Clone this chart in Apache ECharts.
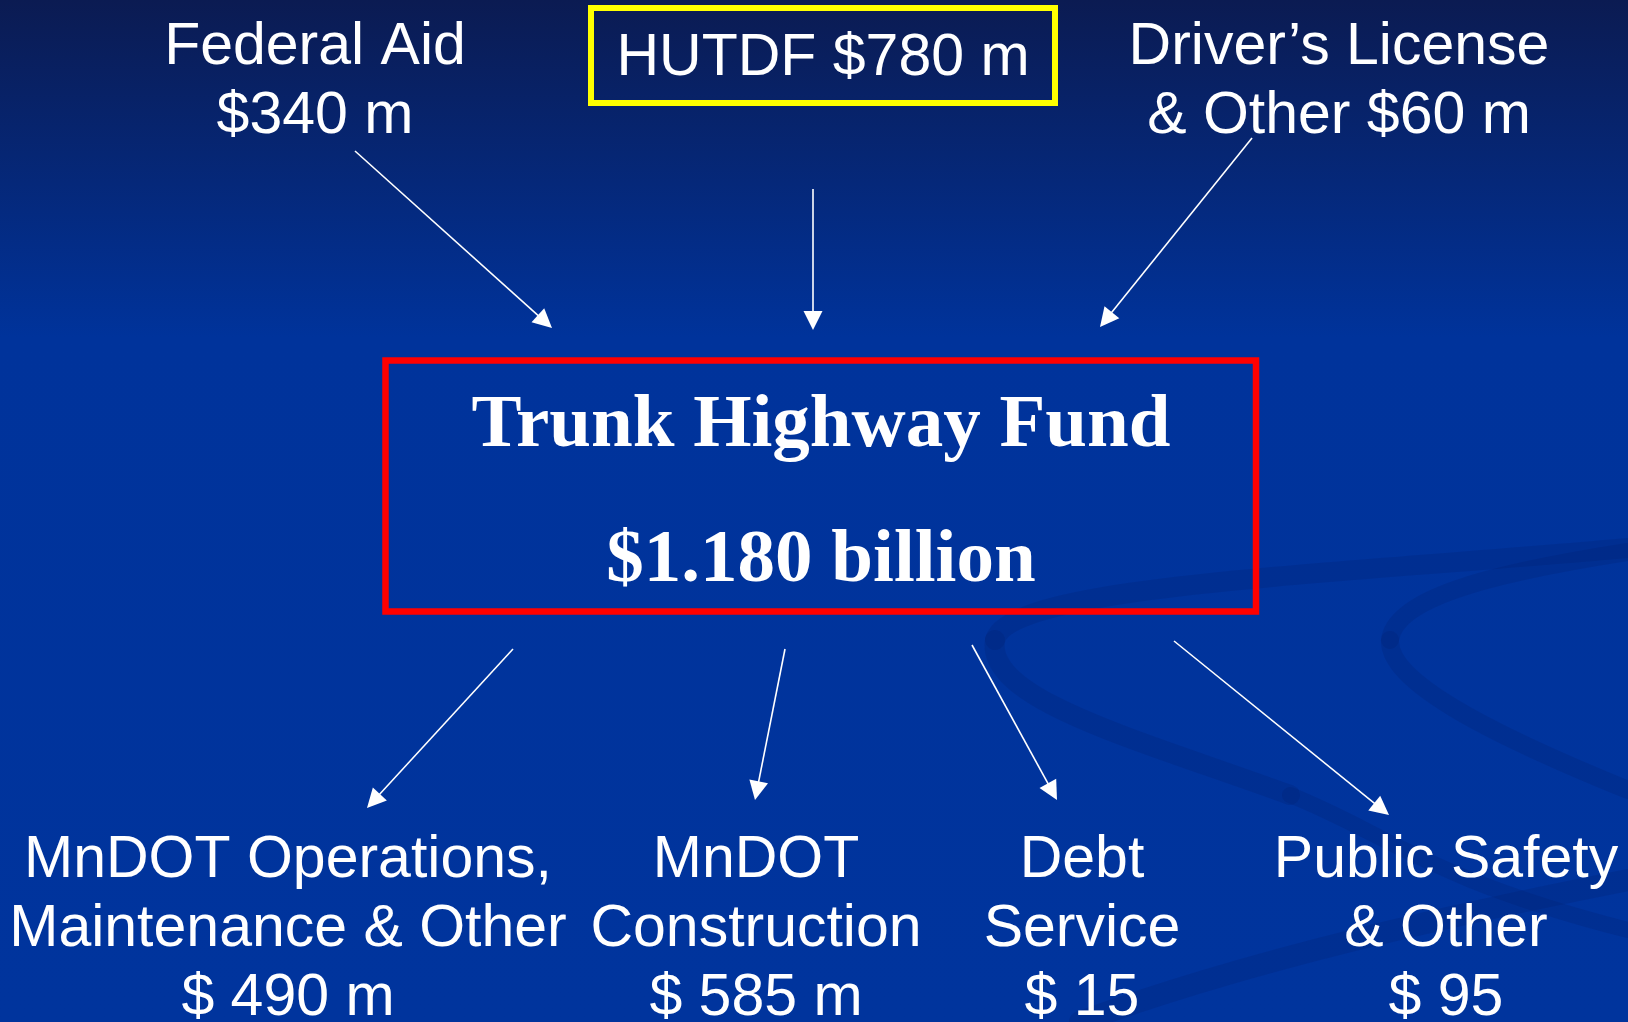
<!DOCTYPE html>
<html>
<head>
<meta charset="utf-8">
<title>Trunk Highway Fund</title>
<script src="https://cdn.jsdelivr.net/npm/echarts@6/dist/echarts.min.js"></script>
<style>
  html, body { margin: 0; padding: 0; }
  #main { width: 1628px; height: 1022px; }
</style>
</head>
<body>
<div id="main"></div>
<script>
// data: money coming in, the fund, money going out ($ millions)
var sourceNames = ['Federal Aid\n', 'HUTDF ', 'Driver\u2019s License\n& Other '];
var sourceAmounts = [340, 780, 60];
var fundNames = ['Trunk Highway Fund'];
var fundTotals = ['1.180'];
var useNames = ['MnDOT Operations,\nMaintenance & Other', 'MnDOT\nConstruction', 'Debt\nService', 'Public Safety\n& Other'];
var useAmounts = [490, 585, 15, 95];
var useUnits = [' m', ' m', '', ''];

// layout (pixels, the axes below map 1:1 to the page)
var sourcePos = [[315, 82.5], [823, 59], [1339, 82.5]];
var fundPos = [821, 494];
var usePos = [[288, 929.5], [756, 929.5], [1082, 929.5], [1446, 929.5]];
// boxes as [x1, y1, x2, y2] of the stroke centre line
var hutdfBox = [591, 8, 1055, 103];
var fundBox = [385.5, 360.5, 1256, 611.5];
var inArrows = [[[355, 151], [552, 328]], [[813, 189], [813, 330]], [[1252, 138], [1100, 327]]];
var outArrows = [[[513, 649], [367, 808]], [[785, 649], [755, 800]], [[972, 645], [1057, 800]], [[1174, 641], [1389, 815]]];
var headSize = 19;

// background swirl, cubic segments [x1,y1, cx1,cy1, cx2,cy2, x2,y2, width]
var swirl = [
    [1628, 548, 1330, 575, 1010, 585, 995, 640, 20],
    [995, 640, 985, 700, 1140, 740, 1290, 795, 20],
    [1290, 795, 1380, 830, 1430, 880, 1628, 930, 16],
    [1628, 552, 1480, 575, 1395, 600, 1390, 640, 18],
    [1390, 640, 1388, 680, 1480, 730, 1628, 790, 18],
    [1080, 1022, 1250, 960, 1450, 915, 1628, 880, 22]
];

var myChart = echarts.init(document.getElementById('main'));

// the arrow head is centred on the line end, so pull the end back by half a head
function arrowLine(a) {
    var dx = a[1][0] - a[0][0], dy = a[1][1] - a[0][1];
    var len = Math.sqrt(dx * dx + dy * dy);
    var k = (len - headSize / 2) / len;
    return { coords: [a[0], [a[0][0] + dx * k, a[0][1] + dy * k]] };
}

function boxArea(b, color, width) {
    return [
        { coord: [b[0], b[1]], itemStyle: { color: 'rgba(0,0,0,0)', borderColor: color, borderWidth: width, opacity: 1 } },
        { coord: [b[2], b[3]] }
    ];
}

var sansLabel = {
    show: true,
    position: 'inside',
    color: '#ffffff',
    fontFamily: 'Liberation Sans',
    fontSize: 59,
    lineHeight: 69
};

var hidden = { color: 'rgba(0,0,0,0)', opacity: 1 };

var sourceData = sourceNames.map(function (n, i) {
    return { name: n, value: sourcePos[i].concat(sourceAmounts[i]) };
});

var useData = useNames.map(function (n, i) {
    return { name: n, value: usePos[i].concat(useAmounts[i]) };
});

var option = {
    backgroundColor: {
        type: 'linear', x: 0, y: 0, x2: 0, y2: 1,
        colorStops: [
            { offset: 0, color: '#0b1b52' },
            { offset: 0.33, color: '#00339b' },
            { offset: 1, color: '#00349d' }
        ]
    },
    animation: false,
    grid: { left: 0, right: 0, top: 0, bottom: 0 },
    xAxis: { type: 'value', min: 0, max: 1628, show: false },
    yAxis: { type: 'value', min: 0, max: 1022, inverse: true, show: false },
    graphic: swirl.map(function (s) {
        return {
            type: 'bezierCurve',
            silent: true,
            shape: { x1: s[0], y1: s[1], cpx1: s[2], cpy1: s[3], cpx2: s[4], cpy2: s[5], x2: s[6], y2: s[7] },
            style: { fill: null, stroke: 'rgba(0,30,105,0.2)', lineWidth: s[8], lineCap: 'round' }
        };
    }),
    series: [
        {
            type: 'lines',
            coordinateSystem: 'cartesian2d',
            symbol: ['none', 'triangle'],
            symbolSize: headSize,
            lineStyle: { color: '#ffffff', width: 1.6, opacity: 1, curveness: 0 },
            data: inArrows.concat(outArrows).map(arrowLine),
            silent: true
        },
        {
            type: 'scatter',
            data: sourceData,
            symbol: 'rect',
            symbolSize: 1,
            itemStyle: hidden,
            label: Object.assign({}, sansLabel, {
                formatter: function (p) { return p.name + '$' + p.value[2] + ' m'; }
            }),
            markArea: {
                silent: true,
                label: { show: false },
                data: [boxArea(hutdfBox, '#ffff00', 6)]
            },
            silent: true
        },
        {
            type: 'scatter',
            data: [{ name: fundNames[0], value: fundPos.concat(fundTotals[0]) }],
            symbol: 'rect',
            symbolSize: 1,
            itemStyle: hidden,
            label: {
                show: true,
                position: 'inside',
                color: '#ffffff',
                fontFamily: 'Liberation Serif',
                fontWeight: 'bold',
                fontSize: 75,
                lineHeight: 135,
                formatter: function (p) { return p.name + '\n$' + p.value[2] + ' billion'; }
            },
            markArea: {
                silent: true,
                label: { show: false },
                data: [boxArea(fundBox, '#ff0000', 6.5)]
            },
            silent: true
        },
        {
            type: 'scatter',
            data: useData,
            symbol: 'rect',
            symbolSize: 1,
            itemStyle: hidden,
            label: Object.assign({}, sansLabel, {
                formatter: function (p) { return p.name + '\n$ ' + p.value[2] + useUnits[p.dataIndex]; }
            }),
            silent: true
        }
    ]
};

myChart.setOption(option);
</script>
</body>
</html>
